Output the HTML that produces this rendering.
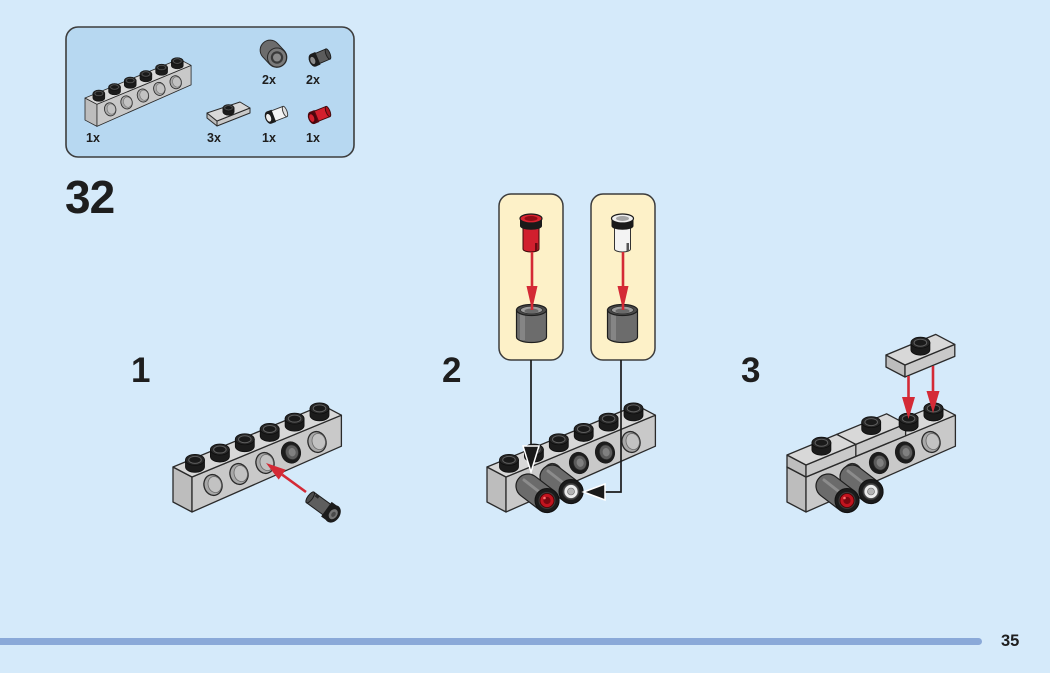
<!DOCTYPE html>
<html>
<head>
<meta charset="utf-8">
<style>
html,body{margin:0;padding:0;background:#d5eafa;}
svg{display:block}
</style>
</head>
<body>
<svg width="1050" height="673" viewBox="0 0 1050 673" xmlns="http://www.w3.org/2000/svg" xmlns:xlink="http://www.w3.org/1999/xlink" font-family="'Liberation Sans', Arial, sans-serif">
<defs>
  <g id="stud">
    <path d="M-9.5,-7 L-9.5,0 A9.5,5.5 0 0 0 9.5,0 L9.5,-7 Z" fill="#1b1b1b" stroke="#0e0e0e" stroke-width="0.8"/>
    <ellipse cx="0" cy="-7" rx="9.5" ry="5.5" fill="#262626" stroke="#0e0e0e" stroke-width="0.8"/>
    <ellipse cx="0" cy="-7" rx="6.3" ry="3.5" fill="#1a1a1a" stroke="#5e5e5e" stroke-width="1"/>
  </g>
  <g id="hole">
    <g transform="rotate(-15)">
      <ellipse rx="9" ry="10.5" fill="#a8a8a8" stroke="#2a2a2a" stroke-width="1.3"/>
      <ellipse cx="1.8" cy="0" rx="6.6" ry="8.2" fill="#c2c2c2" stroke="#6a6a6a" stroke-width="0.8"/>
    </g>
  </g>
  <g id="pinhole">
    <g transform="rotate(-15)">
      <ellipse rx="10" ry="11" fill="#1c1c1c"/>
      <ellipse cx="1" rx="6.5" ry="7.5" fill="#5c5c5c" stroke="#2a2a2a" stroke-width="0.8"/>
      <ellipse cx="1.2" rx="3.5" ry="4.2" fill="#808080"/>
    </g>
  </g>
  <g id="brick" stroke-linejoin="round">
    <polygon points="0,0 19,10 19,45 0,35" fill="#bdbdbd" stroke="#2a2a2a" stroke-width="1.3"/>
    <polygon points="19,10 168.4,-51.8 168.4,-20.8 19,45" fill="#c9c9c9" stroke="#2a2a2a" stroke-width="1.3"/>
    <polygon points="0,0 19,10 168.4,-51.8 149.4,-61.8" fill="#d8d8d8" stroke="#2a2a2a" stroke-width="1.3"/>
    <use href="#hole" xlink:href="#hole" x="40" y="18"/>
    <use href="#hole" xlink:href="#hole" x="66" y="7"/>
    <use href="#hole" xlink:href="#hole" x="92" y="-4"/>
    <use href="#hole" xlink:href="#hole" x="118" y="-14.5"/>
    <use href="#hole" xlink:href="#hole" x="144" y="-25"/>
    <use href="#stud" xlink:href="#stud" x="146.5" y="-51.65"/>
    <use href="#stud" xlink:href="#stud" x="121.6" y="-41.35"/>
    <use href="#stud" xlink:href="#stud" x="96.7" y="-31.05"/>
    <use href="#stud" xlink:href="#stud" x="71.8" y="-20.75"/>
    <use href="#stud" xlink:href="#stud" x="46.9" y="-10.45"/>
    <use href="#stud" xlink:href="#stud" x="22" y="-0.15"/>
  </g>
  <path id="bushbody" d="M-7.28,9.54 L11.72,24.04 A12,12 0 0 0 26.28,4.96 L7.28,-9.54 A12,12 0 0 0 -7.28,9.54 Z" fill="#6b6b6b" stroke="#1e1e1e" stroke-width="1.2"/>
  <g id="bushR">
    <use href="#bushbody" xlink:href="#bushbody"/>
    <path d="M-4,-6 L14,8" stroke="#8c8c8c" stroke-width="3" fill="none" stroke-linecap="round"/>
    <g transform="translate(19,14.5)">
      <circle r="12" fill="#1b1b1b" stroke="#111" stroke-width="1"/>
      <circle r="8.5" fill="#3a3a3a"/>
      <circle r="7" fill="#c0141f" stroke="#4a0000" stroke-width="0.8"/>
      <circle r="3.6" fill="#7a0810"/>
      <circle cx="-2.5" cy="-2.5" r="1.3" fill="#ff7070"/>
    </g>
  </g>
  <g id="bushW">
    <use href="#bushbody" xlink:href="#bushbody"/>
    <path d="M-4,-6 L14,8" stroke="#8c8c8c" stroke-width="3" fill="none" stroke-linecap="round"/>
    <g transform="translate(19,14.5)">
      <circle r="12" fill="#1b1b1b" stroke="#111" stroke-width="1"/>
      <circle r="8.5" fill="#3a3a3a"/>
      <circle r="7" fill="#ececec" stroke="#555" stroke-width="0.8"/>
      <circle r="3.5" fill="#b5b5b5" stroke="#666" stroke-width="0.6"/>
    </g>
  </g>
  <g id="asm">
    <use href="#brick" xlink:href="#brick" transform="translate(487,467)"/>
    <use href="#pinhole" xlink:href="#pinhole" x="579" y="463"/>
    <use href="#pinhole" xlink:href="#pinhole" x="605" y="452.5"/>
    <use href="#bushW" xlink:href="#bushW" transform="translate(552,477)"/>
    <use href="#bushR" xlink:href="#bushR" transform="translate(528,486)"/>
  </g>
</defs>

<!-- background -->
<rect x="0" y="0" width="1050" height="673" fill="#d5eafa"/>

<!-- parts box -->
<rect x="66" y="27" width="288" height="130" rx="12" ry="12" fill="#b7d8f1" stroke="#3d3d3d" stroke-width="1.6"/>
<use href="#brick" xlink:href="#brick" transform="translate(85,98) scale(0.63)"/>

<!-- jumper plate in parts -->
<g stroke="#2a2a2a" stroke-width="1" stroke-linejoin="round">
  <polygon points="207,113 217,121 217,126 207,118" fill="#bdbdbd"/>
  <polygon points="217,121 250,108 250,113 217,126" fill="#c9c9c9"/>
  <polygon points="207,113 217,121 250,108 240,102" fill="#d8d8d8"/>
</g>
<use href="#stud" xlink:href="#stud" transform="translate(228.5,112) scale(0.6)"/>

<!-- dark bush in parts -->
<path d="M262.69,56.82 L269.69,64.32 A10,10 0 0 0 284.31,50.68 L277.31,43.18 A10,10 0 0 0 262.69,56.82 Z" fill="#6c6c6c" stroke="#2a2a2a" stroke-width="1"/>
<circle cx="277" cy="57.5" r="9.5" fill="#7a7a7a" stroke="#2a2a2a" stroke-width="1"/>
<circle cx="277" cy="57.5" r="6.2" fill="#3a3a3a"/>
<circle cx="277" cy="57.5" r="4" fill="#8a8a8a"/>

<!-- dark pin in parts -->
<g transform="translate(328,54) rotate(157)">
  <rect x="0" y="-5.5" width="12" height="11" fill="#5c5c5c" stroke="#1c1c1c" stroke-width="0.9"/>
  <ellipse cx="0" cy="0" rx="2" ry="5.5" fill="#4a4a4a" stroke="#1c1c1c" stroke-width="0.9"/>
  <rect x="11" y="-6.8" width="5" height="13.6" fill="#1c1c1c"/>
  <ellipse cx="16" cy="0" rx="4.2" ry="6.8" fill="#1c1c1c"/>
  <ellipse cx="16.5" cy="0" rx="2.3" ry="3.8" fill="#8a8a8a"/>
</g>
<!-- white pin in parts -->
<g transform="translate(285,111.5) rotate(159)">
  <rect x="0" y="-5.5" width="13" height="11" fill="#f4f4f4" stroke="#333" stroke-width="0.9"/>
  <ellipse cx="0" cy="0" rx="2" ry="5.5" fill="#e0e0e0" stroke="#333" stroke-width="0.9"/>
  <rect x="12" y="-6.5" width="5" height="13" fill="#1c1c1c"/>
  <ellipse cx="17" cy="0" rx="4" ry="6.5" fill="#1c1c1c"/>
  <ellipse cx="17.5" cy="0" rx="2.3" ry="4" fill="#eeeeee"/>
</g>
<!-- red pin in parts -->
<g transform="translate(328,111.5) rotate(158)">
  <rect x="0" y="-5.5" width="13" height="11" fill="#d31f2d" stroke="#3b0a0a" stroke-width="0.9"/>
  <ellipse cx="0" cy="0" rx="2" ry="5.5" fill="#b0101c" stroke="#3b0a0a" stroke-width="0.9"/>
  <rect x="12" y="-6.5" width="5" height="13" fill="#5a0810"/>
  <ellipse cx="17" cy="0" rx="4" ry="6.5" fill="#4a060c"/>
  <ellipse cx="17.5" cy="0" rx="2.3" ry="4" fill="#d31f2d"/>
</g>

<!-- parts labels -->
<g font-size="12.5" font-weight="bold" fill="#1e1e1e">
  <text x="86" y="142">1x</text>
  <text x="207" y="142">3x</text>
  <text x="262" y="142">1x</text>
  <text x="306" y="142">1x</text>
  <text x="262" y="84">2x</text>
  <text x="306" y="84">2x</text>
</g>

<!-- step number -->
<text x="65" y="213" font-size="46" font-weight="bold" fill="#1e1e1e" letter-spacing="-1">32</text>

<!-- sub-step numbers -->
<g font-size="35" font-weight="bold" fill="#1e1e1e">
  <text x="131" y="382">1</text>
  <text x="442" y="382">2</text>
  <text x="741" y="382">3</text>
</g>

<!-- STEP 1 -->
<use href="#brick" xlink:href="#brick" transform="translate(173,467)"/>
<use href="#pinhole" xlink:href="#pinhole" x="291" y="452.5"/>
<g transform="translate(311,498) rotate(36)">
  <rect x="-1" y="-6.5" width="21" height="13" fill="#5e5e5e" stroke="#1c1c1c" stroke-width="1"/>
  <ellipse cx="-1" cy="0" rx="2.5" ry="6.5" fill="#4c4c4c" stroke="#1c1c1c" stroke-width="1"/>
  <rect x="2" y="-6.5" width="4" height="3" fill="#2a2a2a"/>
  <rect x="19" y="-9" width="8" height="18" fill="#1c1c1c"/>
  <ellipse cx="27" cy="0" rx="7" ry="9.5" fill="#1c1c1c"/>
  <ellipse cx="27.5" cy="0" rx="4" ry="5.5" fill="#747474"/>
  <ellipse cx="27.8" cy="0" rx="2" ry="2.8" fill="#4a4a4a"/>
</g>
<line x1="306" y1="492" x2="282.2" y2="474.7" stroke="#d42a36" stroke-width="2.6"/>
<polygon points="278.7,479.6 285.7,469.8 266,463" fill="#d42a36"/>

<!-- STEP 2 -->
<!-- callouts -->
<rect x="499" y="194" width="64" height="166" rx="12" ry="12" fill="#fdf1c8" stroke="#3c3c3c" stroke-width="1.5"/>
<rect x="591" y="194" width="64" height="166" rx="12" ry="12" fill="#fdf1c8" stroke="#3c3c3c" stroke-width="1.5"/>

<!-- red pin vertical -->
<path d="M523,226 L523,249 A8,3 0 0 0 539,249 L539,226 Z" fill="#d11f2e" stroke="#3b0a0a" stroke-width="1"/>
<rect x="535" y="243" width="2.5" height="8" fill="#6a0a12"/>
<path d="M520,219 L520,226 A11,3.8 0 0 0 542,226 L542,219 Z" fill="#1a1a1a"/>
<ellipse cx="531" cy="218.5" rx="11" ry="4.5" fill="#d8232f" stroke="#1a1a1a" stroke-width="1.2"/>
<ellipse cx="531" cy="218.5" rx="6.5" ry="2.5" fill="#8e0c16"/>
<line x1="532" y1="252" x2="532" y2="288" stroke="#d42a36" stroke-width="2.6"/>
<polygon points="526.5,286 537.5,286 532,310" fill="#d42a36"/>
<!-- bush vertical 1 -->
<path d="M516.5,310 L516.5,337 A15,5.5 0 0 0 546.5,337 L546.5,310 Z" fill="#6c6c6c" stroke="#1e1e1e" stroke-width="1.2"/>
<rect x="520" y="314" width="5" height="26" fill="#858585"/>
<ellipse cx="531.5" cy="310" rx="15" ry="5.5" fill="#4a4a4a" stroke="#1e1e1e" stroke-width="1.2"/>
<ellipse cx="531.5" cy="310" rx="11" ry="3.8" fill="#9c9c9c" stroke="#333" stroke-width="0.8"/>
<ellipse cx="531.5" cy="311" rx="7" ry="2.4" fill="#6a6a6a"/>
<line x1="532" y1="300" x2="532" y2="310" stroke="#d42a36" stroke-width="2.6"/>

<!-- white pin vertical -->
<path d="M614.5,226 L614.5,249 A8,3 0 0 0 630.5,249 L630.5,226 Z" fill="#f3f3f3" stroke="#333" stroke-width="1"/>
<rect x="626.5" y="243" width="2.5" height="8" fill="#555"/>
<path d="M611.5,219 L611.5,226 A11,3.8 0 0 0 633.5,226 L633.5,219 Z" fill="#1a1a1a"/>
<ellipse cx="622.5" cy="218.5" rx="11" ry="4.5" fill="#efefef" stroke="#1a1a1a" stroke-width="1.2"/>
<ellipse cx="622.5" cy="218.5" rx="6.5" ry="2.5" fill="#a5a5a5"/>
<line x1="623" y1="252" x2="623" y2="288" stroke="#d42a36" stroke-width="2.6"/>
<polygon points="617.5,286 628.5,286 623,310" fill="#d42a36"/>
<!-- bush vertical 2 -->
<path d="M607.5,310 L607.5,337 A15,5.5 0 0 0 637.5,337 L637.5,310 Z" fill="#6c6c6c" stroke="#1e1e1e" stroke-width="1.2"/>
<rect x="611" y="314" width="5" height="26" fill="#858585"/>
<ellipse cx="622.5" cy="310" rx="15" ry="5.5" fill="#4a4a4a" stroke="#1e1e1e" stroke-width="1.2"/>
<ellipse cx="622.5" cy="310" rx="11" ry="3.8" fill="#9c9c9c" stroke="#333" stroke-width="0.8"/>
<ellipse cx="622.5" cy="311" rx="7" ry="2.4" fill="#6a6a6a"/>
<line x1="623" y1="300" x2="623" y2="310" stroke="#d42a36" stroke-width="2.6"/>

<!-- step 2 assembly -->
<use href="#asm" xlink:href="#asm"/>

<!-- black connectors -->
<path d="M531,360 V447" stroke="#1a1a1a" stroke-width="1.7" fill="none"/>
<polygon points="523,446 539,446 531,472" fill="#1a1a1a" stroke="#ffffff" stroke-width="1.5" stroke-linejoin="miter"/>
<path d="M621,360 V492 H605" stroke="#1a1a1a" stroke-width="1.7" fill="none"/>
<polygon points="605,484 605,500 583.5,492" fill="#1a1a1a" stroke="#ffffff" stroke-width="1.5" stroke-linejoin="miter"/>

<!-- STEP 3 -->
<use href="#asm" xlink:href="#asm" transform="translate(300,0)"/>
<g transform="translate(787,467)" stroke="#2a2a2a" stroke-width="1.3" stroke-linejoin="round">
  <!-- plate 2 -->
  <polygon points="68.8,-22.6 118.6,-43.2 118.6,-31.2 68.8,-10.6" fill="#c9c9c9"/>
  <polygon points="49.8,-32.6 68.8,-22.6 118.6,-43.2 99.6,-53.2" fill="#d8d8d8"/>
  <!-- plate 1 -->
  <polygon points="0,-12 19,-2 19,10 0,0" fill="#bdbdbd"/>
  <polygon points="19,-2 68.8,-22.6 68.8,-10.6 19,10" fill="#c9c9c9"/>
  <polygon points="0,-12 19,-2 68.8,-22.6 49.8,-32.6" fill="#d8d8d8"/>
</g>
<use href="#stud" xlink:href="#stud" x="871.2" y="429.1"/>
<use href="#stud" xlink:href="#stud" x="821.4" y="449.7"/>
<!-- brick studs 5 & 6 re-drawn on top -->
<use href="#stud" xlink:href="#stud" x="933.5" y="415.35"/>
<use href="#stud" xlink:href="#stud" x="908.6" y="425.65"/>

<!-- floating plate -->
<g stroke="#2a2a2a" stroke-width="1.3" stroke-linejoin="round">
  <polygon points="886,355 905,365 905,377 886,367" fill="#bdbdbd"/>
  <polygon points="905,365 954.8,344.4 954.8,356.4 905,377" fill="#c9c9c9"/>
  <polygon points="886,355 905,365 954.8,344.4 935.8,334.4" fill="#d8d8d8"/>
</g>
<use href="#stud" xlink:href="#stud" x="920.4" y="349.7"/>

<!-- red arrows step 3 -->
<line x1="908.5" y1="376" x2="908.5" y2="399" stroke="#d42a36" stroke-width="2.6"/>
<polygon points="902,397 915,397 908.5,419" fill="#d42a36"/>
<line x1="933" y1="366" x2="933" y2="393" stroke="#d42a36" stroke-width="2.6"/>
<polygon points="926.5,391 939.5,391 933,413" fill="#d42a36"/>

<!-- bottom bar -->
<rect x="-10" y="638" width="992" height="7" rx="3.5" ry="3.5" fill="#8aa9d8"/>
<text x="1001" y="646" font-size="16.5" font-weight="bold" fill="#1e1e1e">35</text>
</svg>
</body>
</html>
